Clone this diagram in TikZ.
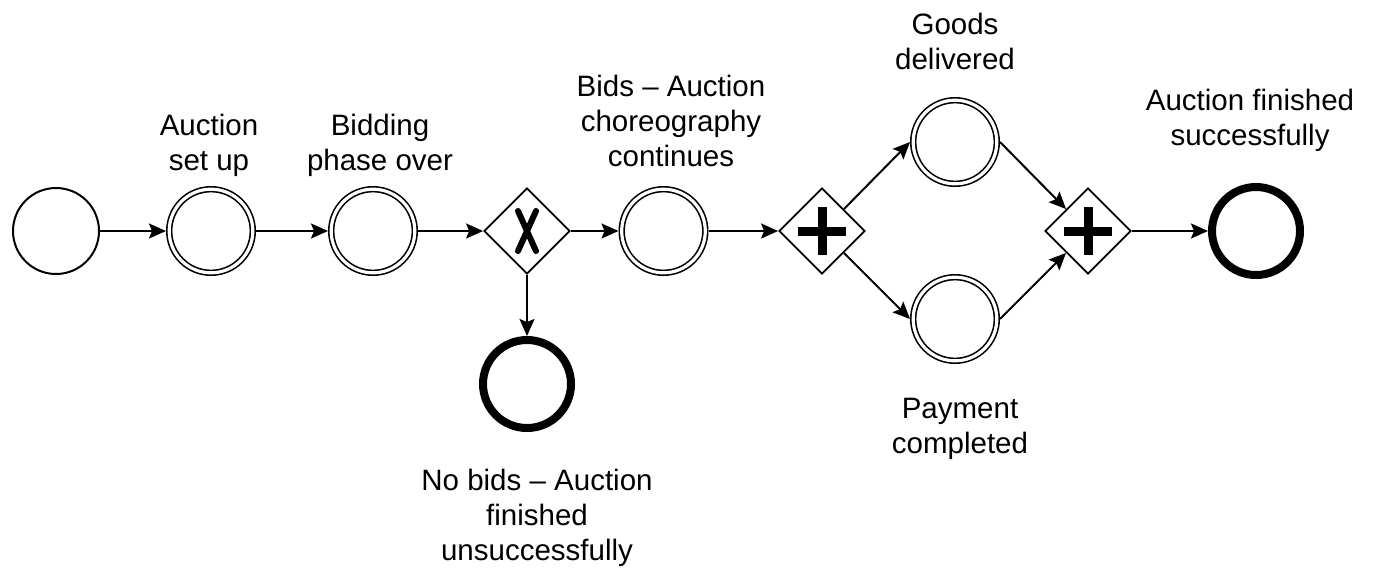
\documentclass[tikz,border=0pt]{standalone}
\usepackage{fontspec}
\setmainfont{Liberation Sans}
\usetikzlibrary{shapes.geometric,arrows.meta}
\begin{document}
\begin{tikzpicture}[x=1pt,y=-1pt,
  startev/.style={circle,draw,line width=2pt,minimum size=86pt,inner sep=0pt},
  intev/.style={circle,draw,line width=1.6pt,double,double distance=3.2pt,minimum size=83.6pt,inner sep=0pt,outer sep=3.2pt},
  endev/.style={circle,draw,line width=8pt,minimum size=88pt,inner sep=0pt},
  gw/.style={diamond,draw,line width=1.8pt,minimum width=86pt,minimum height=86pt,inner sep=0pt,aspect=1},
  lbl/.style={align=center,inner sep=0pt,font=\fontsize{29.5}{35}\selectfont},
  flow/.style={line width=2pt,-{Stealth[length=17pt,width=15pt,inset=3pt]}},
  xmark/.style={line width=6pt,line cap=round},
  plusmark/.style={line width=9pt}
]
\useasboundingbox (0,0) rectangle (1378,574);
\fill[white] (0,0) rectangle (1378,574);

\node[startev] (s) at (56,231) {};
\node[intev] (i1) at (211,231) {};
\node[intev] (i2) at (373,231) {};
\node[gw] (gx) at (527,231) {};
\node[intev] (i3) at (663.5,231) {};
\node[gw] (p1) at (822,231) {};
\node[intev] (gd) at (955,142) {};
\node[intev] (pc) at (955,319) {};
\node[gw] (p2) at (1088,231) {};
\node[endev] (e1) at (1256,231) {};
\node[endev] (e2) at (527,384) {};

% gateway markers
\draw[xmark] (518,211) .. controls (523,222) and (531,240) .. (536,251);
\draw[xmark] (536,211) .. controls (531,222) and (523,240) .. (518,251);
\draw[plusmark] (798,231) -- (846,231) (822,207) -- (822,255);
\draw[plusmark] (1064,231) -- (1112,231) (1088,207) -- (1088,255);

% labels
\node[lbl] (l1) at (209,145) {Auction\\set up};
\node[lbl] (l2) at (380,145) {Bidding\\phase over};
\node[lbl] (l3) at (671,121) {Bids -- Auction\\choreography\\continues};
\node[lbl] (l4) at (955,41) {Goods\\delivered};
\node[lbl] (l5) at (1250,120) {Auction finished\\successfully};
\node[lbl] (l6) at (537,518) {No bids -- Auction\\finished\\unsuccessfully};
\node[lbl] (l7) at (960,429) {Payment\\completed};

% flows
\draw[flow] (s) -- (i1);
\draw[flow] (i1) -- (i2);
\draw[flow] (i2) -- (gx);
\draw[flow] (gx) -- (i3);
\draw[flow] (gx) -- (e2);
\draw[flow] (i3) -- (p1);
\draw[flow] (p1.north east) -- (gd.west);
\draw[flow] (p1.south east) -- (pc.west);
\draw[flow] (gd.east) -- (p2.north west);
\draw[flow] (pc.east) -- (p2.south west);
\draw[flow] (p2) -- (e1);
\end{tikzpicture}
\end{document}
